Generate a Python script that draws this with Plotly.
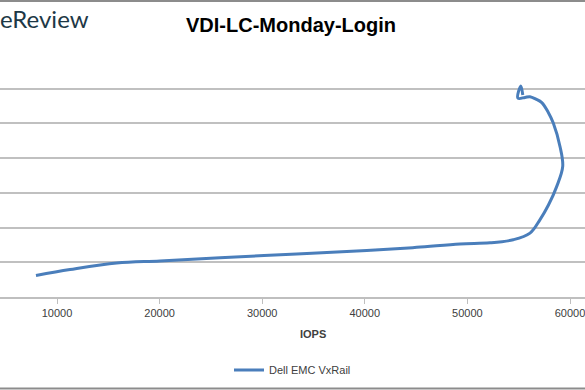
import plotly.graph_objects as go

# Data
iops = [7950, 11270, 15820, 20040, 25890, 33360, 40190, 45060, 49280, 52200,
        54470, 56100, 57080, 57900, 58700, 59290, 59030, 58370, 57860, 57250,
        56680, 56100, 55620, 54920, 55210, 55400]
latency = [0.62, 0.79, 0.98, 1.04, 1.13, 1.24, 1.34, 1.43, 1.53, 1.56,
           1.65, 1.84, 2.23, 2.65, 3.18, 3.76, 4.33, 5.01, 5.33, 5.60,
           5.70, 5.77, 5.75, 5.73, 6.08, 5.82]
series_name = "Dell EMC VxRail"
title_text = "VDI-LC-Monday-Login"
x_title = "IOPS"
x_ticks = [10000, 20000, 30000, 40000, 50000, 60000]
y_ticks = [0, 1, 2, 3, 4, 5, 6, 7]

W, H = 585, 390
PLOT_TOP, PLOT_BOTTOM = 54, 297
PH = PLOT_BOTTOM - PLOT_TOP


def py(p):
    return (PLOT_BOTTOM - p) / PH


def px(p):
    return p / W


fig = go.Figure()
fig.add_trace(go.Scatter(
    x=iops, y=latency, mode="lines", name=series_name,
    line=dict(color="#4a7ebb", width=3, shape="spline", smoothing=1.0),
))

fig.update_layout(
    width=W, height=H,
    margin=dict(l=0, r=0, t=PLOT_TOP, b=H - PLOT_BOTTOM, autoexpand=False),
    paper_bgcolor="white", plot_bgcolor="white",
    font=dict(family="Liberation Sans, Arial, sans-serif", color="#404040", size=11),
    showlegend=True,
    legend=dict(orientation="h", x=0.5, xanchor="center", y=py(370), yanchor="middle",
                font=dict(size=11, color="#404040"), itemwidth=30,
                bgcolor="rgba(0,0,0,0)"),
    xaxis=dict(range=[4444, 61462], tickvals=x_ticks, ticktext=[str(v) for v in x_ticks],
               showgrid=False, zeroline=False, showline=True, linecolor="#bfbfbf",
               linewidth=1.5, ticks="outside", ticklen=5, tickcolor="#bfbfbf",
               tickfont=dict(size=11, color="#404040"), automargin=False,
               ticklabeloverflow="allow", fixedrange=True),
    yaxis=dict(range=[0, 7.0], tickvals=y_ticks, showticklabels=False,
               showgrid=True, gridcolor="#c0c0c0", gridwidth=1.5, zeroline=False,
               showline=False, automargin=False, fixedrange=True),
    shapes=[
        dict(type="line", xref="paper", yref="paper", x0=0, x1=1, y0=py(1), y1=py(1),
             line=dict(color="#8c8c8c", width=2)),
        dict(type="line", xref="paper", yref="paper", x0=0, x1=1, y0=py(388.5), y1=py(388.5),
             line=dict(color="#8c8c8c", width=2)),
    ],
    annotations=[
        dict(text="<b>" + title_text + "</b>", xref="paper", yref="paper",
             x=px(291), y=py(25), xanchor="center", yanchor="middle", showarrow=False,
             font=dict(family="Liberation Sans, Arial, sans-serif", size=20, color="#000000")),
        dict(text="eReview", xref="paper", yref="paper",
             x=px(-2), y=py(18), xanchor="left", yanchor="middle", showarrow=False,
             font=dict(family="Lato, sans-serif", size=24, color="#1d3846")),
        dict(text="<b>" + x_title + "</b>", xref="paper", yref="paper",
             x=px(313), y=py(334), xanchor="center", yanchor="middle", showarrow=False,
             font=dict(family="Liberation Sans, Arial, sans-serif", size=11, color="#404040")),
    ],
)

fig.write_html(
    "out.html",
    config={"displayModeBar": False},
    post_script="document.body.style.margin='0';document.body.style.overflow='hidden';",
)
